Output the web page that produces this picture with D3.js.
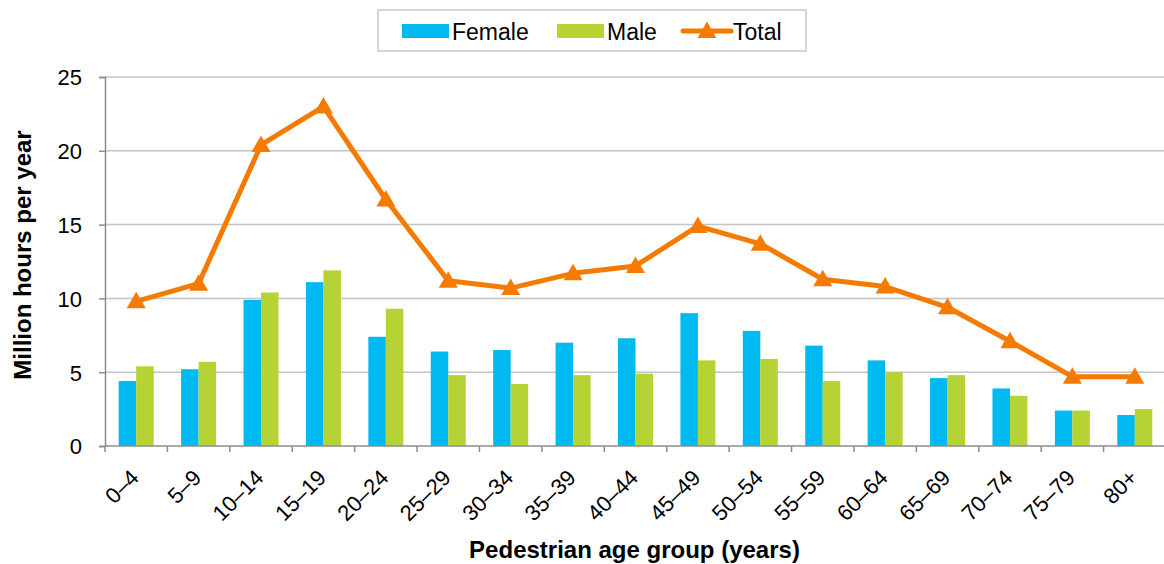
<!DOCTYPE html>
<html>
<head>
<meta charset="utf-8">
<script src="https://cdn.jsdelivr.net/npm/d3@7"></script>
<style>
  body { margin: 0; background: #fff; }
  svg { display: block; font-family: Arial, "Liberation Sans", sans-serif; }
</style>
</head>
<body>
<svg width="1164" height="564"></svg>
<script>
const categories = ["0–4", "5–9", "10–14", "15–19", "20–24", "25–29", "30–34", "35–39", "40–44",
  "45–49", "50–54", "55–59", "60–64", "65–69", "70–74", "75–79", "80+"];
const female = [4.4, 5.2, 9.9, 11.1, 7.4, 6.4, 6.5, 7.0, 7.3, 9.0, 7.8, 6.8, 5.8, 4.6, 3.9, 2.4, 2.1];
const male = [5.4, 5.7, 10.4, 11.9, 9.3, 4.8, 4.2, 4.8, 4.9, 5.8, 5.9, 4.4, 5.0, 4.8, 3.4, 2.4, 2.5];
const total = [9.8, 11.0, 20.4, 23.0, 16.7, 11.2, 10.7, 11.7, 12.2, 14.9, 13.7, 11.3, 10.8, 9.4, 7.1, 4.7, 4.7];
const yTicks = [0, 5, 10, 15, 20, 25];

const colors = { female: "#00b9f1", male: "#b5d334", total: "#f47b00", grid: "#c4c4c4", axis: "#8c8c8c" };
const margin = { left: 105, right: -2, top: 77, bottom: 118 };
const width = 1164;
const height = 564;

const svg = d3.select("svg");

const x = d3.scaleBand()
  .domain(categories)
  .range([margin.left, width - margin.right]);
const x1 = d3.scaleBand()
  .domain(["female", "male"])
  .range([0, 35]);
const y = d3.scaleLinear()
  .domain([0, 25])
  .range([height - margin.bottom, margin.top]);

// grid lines
svg.append("g")
  .selectAll("line")
  .data(yTicks.filter(d => d > 0))
  .join("line")
  .attr("x1", margin.left)
  .attr("x2", width)
  .attr("y1", d => y(d))
  .attr("y2", d => y(d))
  .attr("stroke", colors.grid)
  .attr("stroke-width", 1.5);

// bars
const groups = svg.append("g")
  .selectAll("g")
  .data(categories)
  .join("g")
  .attr("transform", d => `translate(${x(d) + x.bandwidth() / 2 - 17.5},0)`);

groups.append("rect")
  .attr("x", x1("female"))
  .attr("width", x1.bandwidth())
  .attr("y", (d, i) => y(female[i]))
  .attr("height", (d, i) => y(0) - y(female[i]))
  .attr("fill", colors.female);

groups.append("rect")
  .attr("x", x1("male"))
  .attr("width", x1.bandwidth())
  .attr("y", (d, i) => y(male[i]))
  .attr("height", (d, i) => y(0) - y(male[i]))
  .attr("fill", colors.male);

// y axis
const y_axis = d3.axisLeft(y).tickValues(yTicks).tickSize(6).tickPadding(17);
const gy = svg.append("g")
  .attr("transform", `translate(${margin.left},0)`)
  .call(y_axis);
gy.select(".domain").attr("stroke", colors.axis).attr("stroke-width", 1.5);
gy.selectAll(".tick line").attr("stroke", colors.axis).attr("stroke-width", 1.5);
gy.selectAll(".tick text")
  .style("font-size", "22px")
  .style("font-family", "Arial, 'Liberation Sans', sans-serif")
  .attr("fill", "#000")
  .attr("dy", "0.36em");

// x axis (ticks on band edges)
const edges = categories.map(d => x(d)).concat([x.range()[1]]);
const gx = svg.append("g");
gx.append("line")
  .attr("x1", margin.left)
  .attr("x2", width)
  .attr("y1", y(0))
  .attr("y2", y(0))
  .attr("stroke", colors.axis)
  .attr("stroke-width", 1.5);
gx.selectAll(".edge")
  .data(edges)
  .join("line")
  .attr("class", "edge")
  .attr("x1", d => d)
  .attr("x2", d => d)
  .attr("y1", y(0))
  .attr("y2", y(0) + 6)
  .attr("stroke", colors.axis)
  .attr("stroke-width", 1.5);
gx.selectAll("text")
  .data(categories)
  .join("text")
  .attr("text-anchor", "end")
  .attr("transform", d => `translate(${x(d) + x.bandwidth() / 2 + 4},479) rotate(-45)`)
  .style("font-size", "22px")
  .text(d => d);

// total line
const line = d3.line()
  .x((d, i) => x(categories[i]) + x.bandwidth() / 2)
  .y(d => y(d));

svg.append("path")
  .datum(total)
  .attr("fill", "none")
  .attr("stroke", colors.total)
  .attr("stroke-width", 5)
  .attr("stroke-linejoin", "round")
  .attr("d", line);

const triangle = "M0,-9.5L9.5,7L-9.5,7Z";
svg.append("g")
  .selectAll("path")
  .data(total)
  .join("path")
  .attr("transform", (d, i) => `translate(${x(categories[i]) + x.bandwidth() / 2},${y(d)})`)
  .attr("d", triangle)
  .attr("fill", colors.total);

// axis titles
svg.append("text")
  .attr("x", (margin.left + width) / 2)
  .attr("y", 558)
  .attr("text-anchor", "middle")
  .style("font-size", "24px")
  .style("font-weight", "bold")
  .text("Pedestrian age group (years)");

svg.append("text")
  .attr("text-anchor", "middle")
  .attr("transform", "translate(31,255) rotate(-90)")
  .style("font-size", "24px")
  .style("font-weight", "bold")
  .text("Million hours per year");

// legend
const legend = svg.append("g");
legend.append("rect")
  .attr("x", 378).attr("y", 10)
  .attr("width", 428).attr("height", 41)
  .attr("fill", "#fff")
  .attr("stroke", "#c8c8c8")
  .attr("stroke-width", 1.5);

legend.append("rect").attr("x", 402).attr("y", 24).attr("width", 47).attr("height", 14).attr("fill", colors.female);
legend.append("text").attr("x", 452).attr("y", 40).style("font-size", "23px").text("Female");
legend.append("rect").attr("x", 557).attr("y", 24).attr("width", 47).attr("height", 14).attr("fill", colors.male);
legend.append("text").attr("x", 607).attr("y", 40).style("font-size", "23px").text("Male");
legend.append("line")
  .attr("x1", 683).attr("x2", 731).attr("y1", 31).attr("y2", 31)
  .attr("stroke", colors.total).attr("stroke-width", 5).attr("stroke-linecap", "round");
legend.append("path")
  .attr("transform", "translate(707,31)")
  .attr("d", triangle)
  .attr("fill", colors.total);
legend.append("text").attr("x", 733).attr("y", 40).style("font-size", "23px").text("Total");
</script>
</body>
</html>
